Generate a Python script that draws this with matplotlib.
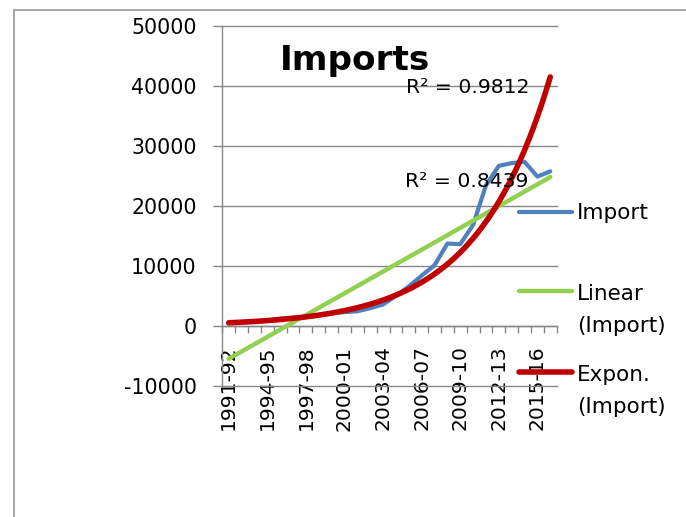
import numpy as np
import matplotlib
matplotlib.use("Agg")
import matplotlib.pyplot as plt
from matplotlib.lines import Line2D
from matplotlib.patches import Rectangle

plt.rcParams['font.family'] = ['DejaVu Sans']
plt.rcParams['axes.unicode_minus'] = False

# ---- data ----
years = ["1991-92", "1992-93", "1993-94", "1994-95", "1995-96", "1996-97",
         "1997-98", "1998-99", "1999-00", "2000-01", "2001-02", "2002-03",
         "2003-04", "2004-05", "2005-06", "2006-07", "2007-08", "2008-09",
         "2009-10", "2010-11", "2011-12", "2012-13", "2013-14", "2014-15",
         "2015-16", "2016-17"]
imports = [480, 630, 730, 900, 1230, 1390, 1540, 1780, 2150, 2310, 2450,
           2970, 3590, 5010, 6600, 8400, 10120, 13740, 13640, 16840, 23450,
           26690, 27150, 27370, 24900, 25780]
title = "Imports"
r2_exp = "R\u00b2 = 0.9812"
r2_lin = "R\u00b2 = 0.8439"
legend_labels = ["Import", "Linear\n(Import)", "Expon.\n(Import)"]

BLUE = "#4F81BD"
GREEN = "#92D050"
RED = "#C00000"
GRID = "#868686"

W, H = 686, 517
fig = plt.figure(figsize=(W / 100, H / 100), dpi=100)

def fx(px):
    return px / W

def fy(py):
    return 1 - py / H

# chart border (cropped Excel chart area)
fig.add_artist(Rectangle((fx(13.5), -0.2), 1.5, fy(10) + 0.2, fill=False,
                         edgecolor="#8E8E8E", linewidth=1.1,
                         transform=fig.transFigure))

ax = fig.add_axes([fx(222.3), fy(386), fx(556.7) - fx(222.3), fy(26) - fy(386)])

x = np.arange(len(imports))
y = np.array(imports, dtype=float)

# Excel-style trendlines (x = 1..n)
xe = x + 1
lin = np.polyfit(xe, y, 1)
expc = np.polyfit(xe, np.log(y), 1)
xs = np.linspace(0, len(imports) - 1, 300)

ax.plot(x, y, color=BLUE, lw=3.0, solid_capstyle='round',
        solid_joinstyle='round', zorder=3)
ax.plot(xs, np.polyval(lin, xs + 1), color=GREEN, lw=3.2,
        solid_capstyle='round', zorder=4)
ax.plot(xs, np.exp(np.polyval(expc, xs + 1)), color=RED, lw=4.0,
        solid_capstyle='round', zorder=5)

ax.set_xlim(-0.5, len(imports) - 0.5)
ax.set_ylim(-10000, 50000)
ax.set_yticks(np.arange(-10000, 50001, 10000))
ax.grid(axis='y', color=GRID, linewidth=1.0)
ax.set_axisbelow(True)
for gl in ax.get_ygridlines():
    gl.set_clip_on(False)

for s in ["top", "right"]:
    ax.spines[s].set_visible(False)
ax.spines["left"].set_color(GRID)
ax.spines["left"].set_linewidth(1.0)
ax.spines["bottom"].set_position(("data", 0))
ax.spines["bottom"].set_color(GRID)
ax.spines["bottom"].set_linewidth(1.0)

ax.set_xticks(np.arange(-0.5, len(imports), 1.0))
ax.set_xticklabels([])
ax.tick_params(axis='x', which='major', direction='out', length=5,
               width=1.0, color=GRID)
ax.set_xticks(x[::3], minor=True)
ax.set_xticklabels([years[i] for i in x[::3]], minor=True, rotation=90,
                   fontsize=14.6)
ax.tick_params(axis='x', which='minor', length=0, pad=14)

ax.tick_params(axis='y', direction='out', length=6.5, width=1.0, color=GRID,
               pad=12, labelsize=14.8)

# title and R² labels
fig.text(fx(355), fy(70), title, fontsize=24.7, fontweight='bold',
         ha='center', va='baseline', zorder=10)
fig.text(fx(406), fy(93.3), r2_exp, fontsize=14.7, ha='left',
         va='baseline', zorder=6)
fig.text(fx(405), fy(187.3), r2_lin, fontsize=14.7, ha='left',
         va='baseline', zorder=6)

# legend (manual, handle aligned with first text line)
handle_y = [211.7, 291.0, 372.3]
base_y = [219.3, 300.0, 380.7]
colors = [BLUE, GREEN, RED]
widths = [3.0, 3.2, 4.0]
for lab, hy, by, c, lw in zip(legend_labels, handle_y, base_y, colors, widths):
    fig.add_artist(Line2D([fx(519), fx(572)], [fy(hy), fy(hy)], color=c,
                          lw=lw, solid_capstyle='round',
                          transform=fig.transFigure))
    for k, line in enumerate(lab.split("\n")):
        fig.text(fx(577), fy(by + 32 * k), line, fontsize=15.5,
                 ha='left', va='baseline')

fig.savefig("out.png", dpi=100)
